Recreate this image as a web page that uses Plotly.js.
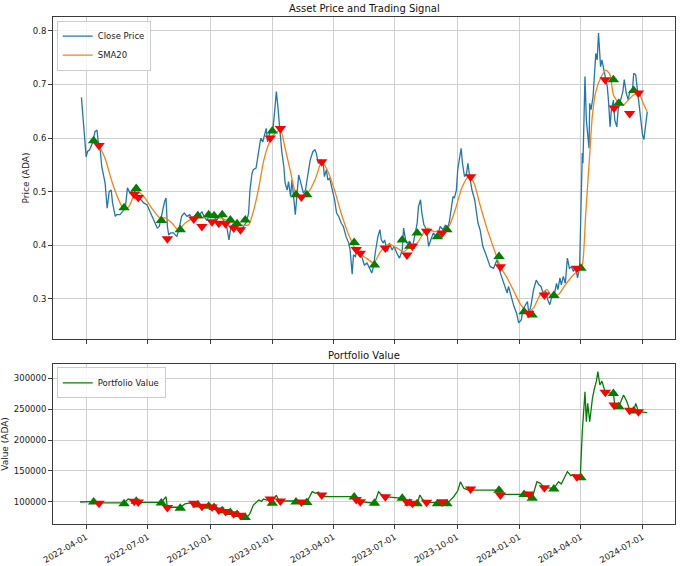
<!DOCTYPE html>
<html><head><meta charset="utf-8">
<script src="https://cdn.plot.ly/plotly-3.0.1.min.js"></script>
<style>html,body{margin:0;padding:0;background:#fff}#chart{width:680px;height:566px}</style>
</head><body><div id="chart"></div>
<script>
const priceDates = ['2022-03-25','2022-03-27','2022-03-29','2022-04-01','2022-04-03','2022-04-06','2022-04-08','2022-04-11','2022-04-14','2022-04-17','2022-04-19','2022-04-22','2022-04-24','2022-04-27','2022-04-29','2022-05-02','2022-05-05','2022-05-08','2022-05-10','2022-05-14','2022-05-16','2022-05-21','2022-05-25','2022-05-29','2022-06-01','2022-06-05','2022-06-10','2022-06-14','2022-06-17','2022-06-21','2022-06-25','2022-06-30','2022-07-04','2022-07-07','2022-07-11','2022-07-15','2022-07-18','2022-07-22','2022-07-26','2022-07-28','2022-07-30','2022-08-01','2022-08-04','2022-08-08','2022-08-13','2022-08-17','2022-08-20','2022-08-24','2022-08-28','2022-09-01','2022-09-04','2022-09-08','2022-09-12','2022-09-16','2022-09-19','2022-09-22','2022-09-26','2022-10-01','2022-10-06','2022-10-11','2022-10-16','2022-10-21','2022-10-26','2022-10-29','2022-11-01','2022-11-05','2022-11-10','2022-11-15','2022-11-20','2022-11-24','2022-11-27','2022-11-29','2022-12-02','2022-12-04','2022-12-08','2022-12-11','2022-12-13','2022-12-15','2022-12-18','2022-12-21','2022-12-23','2022-12-25','2022-12-28','2022-12-30','2023-01-02','2023-01-04','2023-01-07','2023-01-09','2023-01-11','2023-01-13','2023-01-15','2023-01-18','2023-01-20','2023-01-23','2023-01-25','2023-01-28','2023-01-30','2023-02-01','2023-02-04','2023-02-07','2023-02-09','2023-02-11','2023-02-14','2023-02-16','2023-02-19','2023-02-22','2023-02-26','2023-03-02','2023-03-05','2023-03-07','2023-03-10','2023-03-14','2023-03-17','2023-03-19','2023-03-22','2023-03-24','2023-03-27','2023-03-30','2023-04-03','2023-04-06','2023-04-09','2023-04-13','2023-04-16','2023-04-20','2023-04-24','2023-04-26','2023-04-29','2023-05-01','2023-05-04','2023-05-06','2023-05-08','2023-05-11','2023-05-14','2023-05-17','2023-05-21','2023-05-25','2023-05-28','2023-05-31','2023-06-02','2023-06-06','2023-06-09','2023-06-11','2023-06-14','2023-06-16','2023-06-20','2023-06-23','2023-06-27','2023-06-30','2023-07-04','2023-07-08','2023-07-12','2023-07-14','2023-07-17','2023-07-19','2023-07-23','2023-07-27','2023-07-29','2023-07-31','2023-08-03','2023-08-05','2023-08-08','2023-08-10','2023-08-13','2023-08-17','2023-08-20','2023-08-24','2023-08-27','2023-08-31','2023-09-04','2023-09-06','2023-09-10','2023-09-14','2023-09-17','2023-09-20','2023-09-23','2023-09-25','2023-09-27','2023-09-30','2023-10-02','2023-10-04','2023-10-07','2023-10-09','2023-10-12','2023-10-15','2023-10-17','2023-10-20','2023-10-23','2023-10-27','2023-10-30','2023-11-01','2023-11-04','2023-11-08','2023-11-12','2023-11-15','2023-11-19','2023-11-24','2023-11-29','2023-12-04','2023-12-09','2023-12-14','2023-12-16','2023-12-20','2023-12-24','2023-12-28','2023-12-31','2024-01-04','2024-01-06','2024-01-09','2024-01-13','2024-01-15','2024-01-18','2024-01-22','2024-01-26','2024-01-30','2024-02-02','2024-02-05','2024-02-09','2024-02-12','2024-02-15','2024-02-18','2024-02-22','2024-02-25','2024-02-27','2024-03-01','2024-03-03','2024-03-06','2024-03-09','2024-03-12','2024-03-15','2024-03-18','2024-03-21','2024-03-24','2024-03-27','2024-03-30','2024-04-01','2024-04-03','2024-04-04','2024-04-07','2024-04-09','2024-04-11','2024-04-13','2024-04-14','2024-04-16','2024-04-19','2024-04-21','2024-04-23','2024-04-25','2024-04-27','2024-04-30','2024-05-02','2024-05-05','2024-05-07','2024-05-10','2024-05-12','2024-05-14','2024-05-16','2024-05-19','2024-05-21','2024-05-24','2024-05-26','2024-05-30','2024-06-02','2024-06-04','2024-06-07','2024-06-10','2024-06-12','2024-06-16','2024-06-18','2024-06-21','2024-06-23','2024-06-26','2024-06-28','2024-07-01','2024-07-03','2024-07-06','2024-07-08'];
const priceValues = [0.676,0.646,0.615,0.565,0.575,0.578,0.584,0.593,0.612,0.615,0.590,0.575,0.547,0.528,0.516,0.469,0.500,0.503,0.479,0.454,0.457,0.457,0.463,0.472,0.507,0.497,0.503,0.497,0.488,0.485,0.479,0.475,0.463,0.454,0.441,0.432,0.435,0.460,0.482,0.488,0.435,0.419,0.423,0.423,0.416,0.435,0.454,0.460,0.454,0.457,0.451,0.454,0.460,0.457,0.463,0.454,0.447,0.457,0.454,0.447,0.457,0.447,0.432,0.410,0.435,0.441,0.432,0.426,0.435,0.444,0.460,0.503,0.534,0.541,0.544,0.569,0.584,0.600,0.593,0.609,0.618,0.593,0.609,0.612,0.618,0.643,0.687,0.662,0.628,0.606,0.575,0.547,0.516,0.503,0.519,0.491,0.522,0.497,0.457,0.503,0.531,0.522,0.503,0.497,0.503,0.528,0.559,0.575,0.578,0.572,0.553,0.559,0.556,0.528,0.541,0.522,0.525,0.507,0.485,0.460,0.454,0.441,0.435,0.416,0.404,0.391,0.346,0.382,0.379,0.392,0.385,0.388,0.376,0.363,0.367,0.357,0.348,0.363,0.385,0.416,0.429,0.410,0.404,0.410,0.388,0.404,0.391,0.398,0.385,0.376,0.391,0.432,0.410,0.404,0.407,0.395,0.410,0.423,0.441,0.472,0.485,0.460,0.438,0.429,0.398,0.413,0.423,0.416,0.426,0.435,0.429,0.438,0.429,0.447,0.479,0.491,0.488,0.503,0.541,0.559,0.581,0.553,0.528,0.534,0.553,0.525,0.503,0.485,0.460,0.441,0.429,0.398,0.385,0.373,0.360,0.357,0.373,0.348,0.329,0.311,0.323,0.304,0.286,0.273,0.255,0.261,0.279,0.286,0.295,0.273,0.286,0.317,0.335,0.326,0.323,0.311,0.314,0.298,0.289,0.304,0.311,0.329,0.317,0.339,0.326,0.342,0.329,0.376,0.357,0.360,0.351,0.360,0.339,0.357,0.447,0.572,0.553,0.715,0.634,0.603,0.581,0.665,0.653,0.678,0.721,0.758,0.746,0.796,0.733,0.746,0.727,0.715,0.696,0.665,0.621,0.653,0.671,0.634,0.621,0.653,0.671,0.687,0.709,0.684,0.671,0.687,0.687,0.721,0.718,0.696,0.659,0.640,0.606,0.597,0.628,0.649];

const smaDates = ['2022-04-12','2022-04-19','2022-04-29','2022-05-09','2022-05-19','2022-05-27','2022-06-03','2022-06-10','2022-06-17','2022-06-27','2022-07-07','2022-07-19','2022-07-27','2022-08-06','2022-08-15','2022-08-25','2022-09-07','2022-09-21','2022-10-01','2022-10-16','2022-10-31','2022-11-15','2022-11-27','2022-12-04','2022-12-12','2022-12-19','2022-12-27','2023-01-03','2023-01-13','2023-01-20','2023-01-28','2023-02-04','2023-02-14','2023-02-24','2023-03-06','2023-03-15','2023-03-23','2023-04-02','2023-04-12','2023-04-24','2023-05-06','2023-05-21','2023-05-31','2023-06-10','2023-06-22','2023-07-04','2023-07-14','2023-07-27','2023-08-03','2023-08-18','2023-08-27','2023-09-09','2023-09-19','2023-09-29','2023-10-08','2023-10-18','2023-10-26','2023-11-04','2023-11-14','2023-11-24','2023-12-04','2023-12-14','2023-12-24','2024-01-03','2024-01-13','2024-01-22','2024-02-01','2024-02-11','2024-02-18','2024-02-28','2024-03-09','2024-03-19','2024-03-29','2024-04-03','2024-04-08','2024-04-13','2024-04-18','2024-04-23','2024-04-30','2024-05-08','2024-05-14','2024-05-19','2024-05-27','2024-06-03','2024-06-10','2024-06-18','2024-06-26','2024-07-01','2024-07-08'];
const smaValues = [0.595,0.587,0.562,0.519,0.485,0.466,0.472,0.491,0.500,0.488,0.469,0.451,0.451,0.441,0.429,0.441,0.451,0.451,0.454,0.451,0.444,0.438,0.438,0.463,0.507,0.556,0.590,0.606,0.615,0.581,0.537,0.500,0.491,0.500,0.525,0.556,0.541,0.507,0.463,0.419,0.388,0.375,0.367,0.388,0.402,0.395,0.388,0.401,0.404,0.432,0.426,0.426,0.435,0.469,0.507,0.528,0.516,0.475,0.432,0.395,0.360,0.339,0.314,0.289,0.276,0.283,0.308,0.317,0.304,0.308,0.326,0.342,0.354,0.363,0.457,0.550,0.643,0.687,0.712,0.727,0.718,0.681,0.665,0.662,0.671,0.681,0.684,0.668,0.649];

const buyDates = ['2022-04-12','2022-05-27','2022-06-14','2022-07-21','2022-08-18','2022-09-13','2022-09-29','2022-10-07','2022-10-19','2022-10-31','2022-11-10','2022-11-22','2023-01-01','2023-02-05','2023-02-21','2023-05-02','2023-06-01','2023-07-12','2023-07-23','2023-08-03','2023-09-02','2023-09-16','2023-12-02','2024-01-08','2024-01-20','2024-02-21','2024-04-01','2024-05-19','2024-05-27','2024-06-18'];
const buyPrices = [0.595,0.470,0.506,0.446,0.429,0.455,0.457,0.455,0.457,0.447,0.440,0.447,0.613,0.494,0.494,0.405,0.363,0.410,0.398,0.423,0.416,0.429,0.379,0.276,0.270,0.306,0.357,0.709,0.665,0.689];
const buyValues = [100000,97000,101000,98500,90000,95000,93000,91000,86000,83000,80000,75000,98000,100000,99000,108000,98000,106000,98000,97000,97000,97000,119000,112000,106000,121000,139200,275000,253700,246800];

const sellDates = ['2022-04-20','2022-06-11','2022-06-17','2022-07-30','2022-09-07','2022-09-19','2022-10-04','2022-10-14','2022-10-24','2022-11-05','2022-11-15','2022-12-29','2023-01-13','2023-02-13','2023-03-15','2023-05-05','2023-05-11','2023-06-17','2023-07-19','2023-07-27','2023-08-17','2023-09-09','2023-10-21','2023-12-04','2024-01-15','2024-02-07','2024-03-26','2024-05-07','2024-05-20','2024-06-12','2024-06-25'];
const sellPrices = [0.586,0.495,0.489,0.412,0.449,0.435,0.444,0.441,0.440,0.432,0.429,0.600,0.618,0.490,0.556,0.392,0.385,0.395,0.382,0.398,0.426,0.423,0.528,0.360,0.273,0.307,0.357,0.709,0.656,0.646,0.684];
const sellValues = [98000,101000,100000,91000,98000,93000,92000,87000,84500,81000,78500,104800,101600,100000,111300,104000,100500,108500,100500,98000,99500,100500,121000,111300,113000,123000,140800,276900,256500,248000,245700];

const portfolioDates = ['2022-03-23','2022-04-12','2022-04-16','2022-04-20','2022-05-27','2022-06-02','2022-06-06','2022-06-11','2022-06-14','2022-06-17','2022-07-21','2022-07-28','2022-07-30','2022-08-18','2022-08-25','2022-09-02','2022-09-07','2022-09-13','2022-09-19','2022-09-29','2022-10-04','2022-10-07','2022-10-14','2022-10-19','2022-10-24','2022-10-31','2022-11-05','2022-11-10','2022-11-15','2022-11-22','2022-11-27','2022-11-29','2022-12-04','2022-12-07','2022-12-12','2022-12-16','2022-12-19','2022-12-24','2022-12-29','2023-01-01','2023-01-07','2023-01-10','2023-01-13','2023-02-05','2023-02-13','2023-02-21','2023-03-01','2023-03-06','2023-03-10','2023-03-15','2023-05-02','2023-05-05','2023-05-11','2023-06-01','2023-06-07','2023-06-11','2023-06-17','2023-07-12','2023-07-19','2023-07-23','2023-07-27','2023-08-03','2023-08-07','2023-08-11','2023-08-17','2023-09-02','2023-09-09','2023-09-16','2023-09-21','2023-09-26','2023-10-02','2023-10-06','2023-10-11','2023-10-16','2023-10-18','2023-10-21','2023-12-02','2023-12-04','2024-01-08','2024-01-12','2024-01-15','2024-01-20','2024-01-23','2024-01-27','2024-02-01','2024-02-07','2024-02-21','2024-02-25','2024-02-28','2024-03-03','2024-03-06','2024-03-12','2024-03-17','2024-03-21','2024-03-26','2024-03-31','2024-04-03','2024-04-07','2024-04-09','2024-04-11','2024-04-14','2024-04-18','2024-04-21','2024-04-24','2024-04-26','2024-04-29','2024-05-02','2024-05-07','2024-05-19','2024-05-21','2024-05-27','2024-06-03','2024-06-08','2024-06-12','2024-06-18','2024-06-21','2024-06-25','2024-07-08'];
const portfolioValues = [100000,100000,101000,98500,98500,104800,103000,101000,101000,99500,99500,108500,91500,91500,97000,98500,98000,95000,93000,93000,92000,91000,87000,86000,84500,83000,81000,80000,78500,75000,78000,81700,95000,98000,103200,101000,104800,103200,104000,100000,111000,104000,101600,101600,100000,100000,116600,114000,116000,108500,108500,104000,100500,98000,116600,112000,108500,106000,100500,98000,98000,97000,111300,104000,99500,99000,100500,97000,103000,108500,118000,132700,122000,120000,124000,119300,119300,112400,112400,116000,113000,106000,118000,132700,130000,123000,122000,128000,132700,129000,135000,148900,142400,144000,140800,139200,213400,277900,229500,259200,229500,267300,283400,295200,310300,288700,295000,276900,275300,256500,253700,272600,261800,248000,246800,259000,245700,244000];

const xTickVals = ['2022-04-01','2022-07-01','2022-10-01','2023-01-01','2023-04-01','2023-07-01','2023-10-01','2024-01-01','2024-04-01','2024-07-01'];
const xTickText = ['2022-04-01','2022-07-01','2022-10-01','2023-01-01','2023-04-01','2023-07-01','2023-10-01','2024-01-01','2024-04-01','2024-07-01'];
const priceTicks = [0.3,0.4,0.5,0.6,0.7,0.8];
const valueTicks = [100000,150000,200000,250000,300000];

const FONT = 'DejaVu Sans, sans-serif';
const GRID = '#cfcfcf';
const AX = '#3a3a3a';

const traces = [
  {x: priceDates, y: priceValues, type:'scatter', mode:'lines', name:'Close Price',
   line:{color:'#1f77b4', width:1.3}, xaxis:'x', yaxis:'y', legend:'legend'},
  {x: smaDates, y: smaValues, type:'scatter', mode:'lines', name:'SMA20',
   line:{color:'#ff7f0e', width:1.3, shape:'spline', smoothing:0.6}, xaxis:'x', yaxis:'y', legend:'legend'},
  {x: buyDates, y: buyPrices, type:'scatter', mode:'markers', name:'Buy', showlegend:false,
   marker:{symbol:'triangle-up', size:10, color:'#008000'}, xaxis:'x', yaxis:'y'},
  {x: sellDates, y: sellPrices, type:'scatter', mode:'markers', name:'Sell', showlegend:false,
   marker:{symbol:'triangle-down', size:10, color:'#ff0000'}, xaxis:'x', yaxis:'y'},
  {x: portfolioDates, y: portfolioValues, type:'scatter', mode:'lines', name:'Portfolio Value',
   line:{color:'#008000', width:1.3}, xaxis:'x2', yaxis:'y2', legend:'legend2'},
  {x: buyDates, y: buyValues, type:'scatter', mode:'markers', showlegend:false,
   marker:{symbol:'triangle-up', size:10, color:'#008000'}, xaxis:'x2', yaxis:'y2'},
  {x: sellDates, y: sellValues, type:'scatter', mode:'markers', showlegend:false,
   marker:{symbol:'triangle-down', size:10, color:'#ff0000'}, xaxis:'x2', yaxis:'y2'}
];

const xCommon = {
  type:'date', range:['2022-02-11','2024-08-18'], tickmode:'array', tickvals:xTickVals, ticktext:xTickText,
  showgrid:true, gridcolor:GRID, gridwidth:1, showline:true, linecolor:AX, linewidth:1, mirror:true,
  ticks:'outside', ticklen:4, tickcolor:AX, zeroline:false, automargin:false,
  tickfont:{family:FONT, size:8.5, color:'#222'}
};

const layout = {
  width:680, height:566,
  margin:{l:53, r:5, t:17, b:42},
  paper_bgcolor:'#fff', plot_bgcolor:'#fff',
  font:{family:FONT, size:9, color:'#222'},
  xaxis: Object.assign({}, xCommon, {domain:[0,1], anchor:'y', showticklabels:false, matches:'x2'}),
  yaxis: {domain:[0.3649,1], anchor:'x', range:[0.225,0.826], tickmode:'array', tickvals:priceTicks,
    tickformat:'.1f', showgrid:true, gridcolor:GRID, gridwidth:1, showline:true, linecolor:AX, linewidth:1, mirror:true,
    ticks:'outside', ticklen:4, tickcolor:AX, zeroline:false, automargin:false,
    tickfont:{family:FONT, size:8.5, color:'#222'},
    title:{text:'Price (ADA)', font:{family:FONT, size:9, color:'#222'}, standoff:1}},
  xaxis2: Object.assign({}, xCommon, {domain:[0,1], anchor:'y2', showticklabels:true, tickangle:-30}),
  yaxis2: {domain:[0,0.3156], anchor:'x2', range:[64500,322600], tickmode:'array', tickvals:valueTicks,
    tickformat:'d', showgrid:true, gridcolor:GRID, gridwidth:1, showline:true, linecolor:AX, linewidth:1, mirror:true,
    ticks:'outside', ticklen:4, tickcolor:AX, zeroline:false, automargin:false,
    tickfont:{family:FONT, size:8.5, color:'#222'},
    title:{text:'Value (ADA)', font:{family:FONT, size:9, color:'#222'}, standoff:4}},
  legend: {x:0.006, y:0.993, xanchor:'left', yanchor:'top', bgcolor:'rgba(255,255,255,0.8)',
    bordercolor:'#cccccc', borderwidth:1, font:{family:FONT, size:8.5, color:'#222'}, tracegroupgap:0, itemwidth:30},
  legend2: {x:0.006, y:0.309, xanchor:'left', yanchor:'top', bgcolor:'rgba(255,255,255,0.8)',
    bordercolor:'#cccccc', borderwidth:1, font:{family:FONT, size:8.5, color:'#222'}, itemwidth:30},
  annotations:[
    {text:'Asset Price and Trading Signal', xref:'paper', yref:'paper', x:0.5, y:1.0158, xanchor:'center', yanchor:'middle',
     showarrow:false, font:{family:FONT, size:10, color:'#111'}},
    {text:'Portfolio Value', xref:'paper', yref:'paper', x:0.5, y:0.3314, xanchor:'center', yanchor:'middle',
     showarrow:false, font:{family:FONT, size:10, color:'#111'}}
  ],
  showlegend:true
};

Plotly.newPlot('chart', traces, layout, {displayModeBar:false, staticPlot:true});
</script>
</body></html>
